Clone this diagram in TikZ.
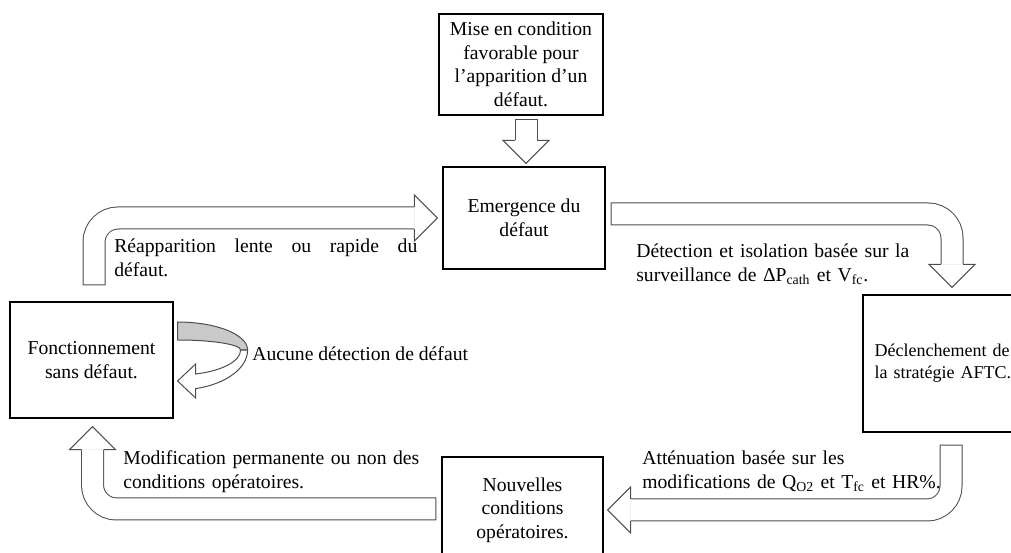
\documentclass[tikz,border=0pt]{standalone}
\usepackage{fontspec}
\setmainfont{Liberation Serif}
\usetikzlibrary{calc}
\definecolor{arrgray}{HTML}{4D4D4D}
\definecolor{bandgray}{HTML}{C9C9C9}

\begin{document}
\begin{tikzpicture}[x=0.6pt,y=-0.6pt,
  stage/.style={draw,line width=0.7pt,align=center,inner sep=0pt,font=\fontsize{11.8}{14.1}\selectfont},
  lbl/.style={anchor=base west,inner sep=0pt,align=left,font=\fontsize{11.8}{14.1}\selectfont},
  shaft/.style={draw=arrgray,line width=13.8pt,rounded corners=14.4pt},
  shaftin/.style={draw=white,line width=12.6pt,rounded corners=14.4pt,shorten <=0.6pt},
  pics/ahead/.style={code={
    \fill[white] (0,-23) -- (23,0) -- (0,23) -- cycle;
    \draw[arrgray,line width=0.6pt] (0,-11) -- (0,-23) -- (23,0) -- (0,23) -- (0,11);
  }}]
  \useasboundingbox (0,0) rectangle (1011,553);

  % etapes
  \node[stage,minimum width=98.4pt,minimum height=60.6pt] (mise) at (521,64.5)
    {Mise en condition\\favorable pour\\l’apparition d’un\\défaut.};
  \node[stage,minimum width=97.2pt,minimum height=61.2pt] (emerg) at (524,218)
    {Emergence du\\défaut};
  \node[stage,minimum width=97.8pt,minimum height=69.6pt] (fonct) at (91.5,360)
    {Fonctionnement\\sans défaut.};
  \node[stage,minimum width=109.2pt,minimum height=82.2pt,align=left,text width=95.2pt,inner xsep=7pt,
        font=\fontsize{10.8}{13.2}\selectfont] (aftc) at (954,363.5)
    {Déclenchement de\\la stratégie AFTC.};
  \node[stage,minimum width=96.6pt,minimum height=63.6pt] (nouv) at (522.5,510)
    {Nouvelles\\conditions\\opératoires.};

  % extremites des fleches
  \coordinate (d1) at ($(mise.south)+(5,3)$);
  \coordinate (d2) at ($(emerg.north)+(2,-26)$);
  \coordinate (a1) at ($(fonct.north)+(2.5,-16)$);
  \coordinate (a2) at ($(emerg.west)+(-28,0)$);
  \coordinate (b1) at ($(emerg.east)+(5,-4)$);
  \coordinate (b2) at ($(aftc.north)+(-2,-30)$);
  \coordinate (c1) at ($(aftc.south)+(-3,12)$);
  \coordinate (c2) at ($(nouv.east)+(27,0)$);
  \coordinate (e1) at ($(nouv.west)+(-5,-1)$);
  \coordinate (e2) at ($(fonct.south)+(1,31)$);

  \draw[shaft] (d1) -- (d2);   \draw[shaftin] (d1) -- (d2);
  \draw[shaft] (a1) |- (a2);   \draw[shaftin] (a1) |- (a2);
  \draw[shaft] (b1) -| (b2);   \draw[shaftin] (b1) -| (b2);
  \draw[shaft] (c1) |- (c2);   \draw[shaftin] (c1) |- (c2);
  \draw[shaft] (e1) -| (e2);   \draw[shaftin] (e1) -| (e2);
  \pic[rotate=-90] at (d2) {ahead};
  \pic at (a2) {ahead};
  \pic[rotate=-90] at (b2) {ahead};
  \pic[rotate=180] at (c2) {ahead};
  \pic[rotate=90] at (e2) {ahead};

  % boucle sans detection
  \begin{scope}[shift={(fonct.east)},line width=0.6pt]
    \filldraw[draw=arrgray,fill=bandgray] (4,-38) arc[start angle=-90,end angle=0,x radius=70,y radius=28]
      -- (67,-10) arc[start angle=0,end angle=-90,x radius=63,y radius=10] -- cycle;
    \filldraw[draw=arrgray,fill=white] (74,-10) arc[start angle=0,end angle=75,x radius=70,y radius=40]
      -- (22,38) -- (4,21) -- (22,4) -- (22,14)
      arc[start angle=73.4,end angle=0,x radius=63,y radius=25] -- cycle;
  \end{scope}

  % textes
  \node[lbl] (aucune) at (252,361) {Aucune détection de défaut};
  \node[lbl,text width=181.8pt,align=justify] (reapp) at (114,253)
    {Réapparition lente ou rapide du\linebreak défaut.};
  \node[lbl,text width=200pt] (detect) at (636,258)
    {Détection et isolation basée sur la\\surveillance de ΔP\textsubscript{cath} et V\textsubscript{fc}.};
  \node[lbl,text width=200pt] (attenu) at (642,465)
    {Atténuation basée sur les\\modifications de Q\textsubscript{O2} et T\textsubscript{fc} et HR\%.};
  \node[lbl,text width=200pt] (modif) at (123,465)
    {Modification permanente ou non des\\conditions opératoires.};
\end{tikzpicture}
\end{document}
